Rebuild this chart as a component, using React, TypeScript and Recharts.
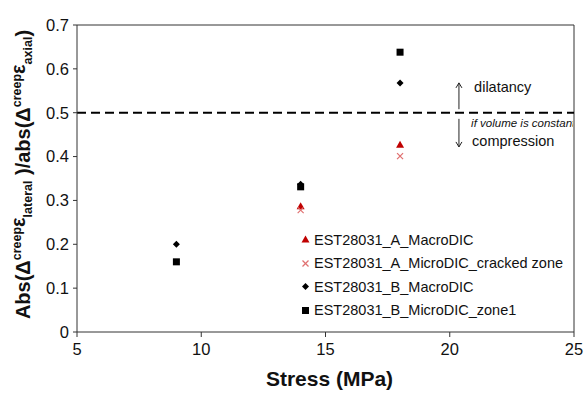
import React from 'react';
import { ScatterChart, Scatter, XAxis, YAxis, ReferenceLine, ReferenceDot, Legend } from 'recharts';

// ---- data ----
const xTicks = [5, 10, 15, 20, 25];
const yTicks = [0, 0.1, 0.2, 0.3, 0.4, 0.5, 0.6, 0.7];

const stressAMacro = [14, 18];
const ratioAMacro = [0.287, 0.427];
const stressAMicro = [14, 18];
const ratioAMicro = [0.278, 0.401];
const stressBMacro = [9, 14, 18];
const ratioBMacro = [0.2, 0.337, 0.568];
const stressBMicro = [9, 14, 18];
const ratioBMicro = [0.16, 0.331, 0.638];

const seriesNames = [
  'EST28031_A_MacroDIC',
  'EST28031_A_MicroDIC_cracked zone',
  'EST28031_B_MacroDIC',
  'EST28031_B_MicroDIC_zone1',
];

const threshold = 0.5;

const zip = (xs: number[], ys: number[]) => xs.map((x, i) => ({ x, y: ys[i] }));
const dataAMacro = zip(stressAMacro, ratioAMacro);
const dataAMicro = zip(stressAMicro, ratioAMicro);
const dataBMacro = zip(stressBMacro, ratioBMacro);
const dataBMicro = zip(stressBMicro, ratioBMicro);

const FONT = '"Liberation Sans", Arial, sans-serif';
const AXIS = '#333';
const RED = '#c00000';
const PINK = '#e07070';

// ---- marker shapes ----
const Triangle = (p: any) => (
  <polygon points={`${p.cx},${p.cy - 4} ${p.cx + 4},${p.cy + 3} ${p.cx - 4},${p.cy + 3}`} fill={RED} />
);
const Cross = (p: any) => (
  <g stroke={PINK} strokeWidth={1.2}>
    <line x1={p.cx - 3} y1={p.cy - 3} x2={p.cx + 3} y2={p.cy + 3} />
    <line x1={p.cx - 3} y1={p.cy + 3} x2={p.cx + 3} y2={p.cy - 3} />
  </g>
);
const Diamond = (p: any) => (
  <polygon points={`${p.cx},${p.cy - 3.5} ${p.cx + 3.5},${p.cy} ${p.cx},${p.cy + 3.5} ${p.cx - 3.5},${p.cy}`} fill="#000" />
);
const Square = (p: any) => <rect x={p.cx - 3.5} y={p.cy - 3.5} width={7} height={7} fill="#000" />;

const markers = [Triangle, Cross, Diamond, Square];

const LegendContent = () => (
  <div style={{ fontFamily: FONT, fontSize: 14.5, color: '#111' }}>
    {seriesNames.map((n, i) => {
      const M = markers[i];
      return (
        <div key={n} style={{ height: 23.5, display: 'flex', alignItems: 'center', whiteSpace: 'nowrap' }}>
          <svg width={9} height={9} style={{ marginRight: 4 }}>
            <M cx={4.5} cy={4.5} />
          </svg>
          <span>{n}</span>
        </div>
      );
    })}
  </div>
);

const YLabel = (props: any) => {
  const vb = props.viewBox;
  const cy = vb.y + vb.height / 2 - 4;
  const cx = 30;
  return (
    <text
      x={cx}
      y={cy}
      transform={`rotate(-90 ${cx} ${cy})`}
      textAnchor="middle"
      fontFamily={FONT}
      fontWeight="bold"
      fontSize={20}
      fill="#111"
    >
      <tspan>Abs(Δ</tspan>
      <tspan fontSize={12.5} dy={-9}>creep</tspan>
      <tspan dy={4}>ε</tspan>
      <tspan fontSize={12.5} dy={7}>lateral</tspan>
      <tspan dy={-2}> )/abs(Δ</tspan>
      <tspan fontSize={12.5} dy={-9}>creep</tspan>
      <tspan dy={4}>ε</tspan>
      <tspan fontSize={12.5} dy={7}>axial</tspan>
      <tspan dy={-2}>)</tspan>
    </text>
  );
};

const XLabel = (props: any) => {
  const vb = props.viewBox;
  return (
    <text x={vb.x + vb.width / 2 + 4} y={386} textAnchor="middle" fontFamily={FONT} fontWeight="bold" fontSize={21} fill="#111">
      Stress (MPa)
    </text>
  );
};

const Arrow = (dir: 'up' | 'down') => (p: any) => {
  const x = p.x1;
  const yTail = dir === 'up' ? Math.max(p.y1, p.y2) : Math.min(p.y1, p.y2);
  const yHead = dir === 'up' ? Math.min(p.y1, p.y2) : Math.max(p.y1, p.y2);
  const s = dir === 'up' ? 1 : -1;
  return (
    <g stroke="#222" strokeWidth={1} fill="none">
      <line x1={x} y1={yTail} x2={x} y2={yHead} />
      <polyline points={`${x - 3},${yHead + 5 * s} ${x},${yHead} ${x + 3},${yHead + 5 * s}`} />
    </g>
  );
};

const annText = (txt: string, size: number, italic = false) => (props: any) => {
  const vb = props.viewBox;
  return (
    <g>
      <defs>
        <clipPath id="annclip">
          <rect x={0} y={0} width={573} height={395} />
        </clipPath>
      </defs>
      <text
        x={vb.x}
        y={vb.y}
        dominantBaseline="central"
        fontFamily={FONT}
        fontSize={size}
        fontStyle={italic ? 'italic' : 'normal'}
        fill="#111"
        clipPath="url(#annclip)"
      >
        {txt}
      </text>
    </g>
  );
};

export default function App() {
  return (
    <div style={{ position: 'absolute', left: 0, top: 0, background: '#fff' }}>
      <ScatterChart width={585} height={395} margin={{ top: 25, right: 11, left: 32, bottom: 33 }}>
        <XAxis
          type="number"
          dataKey="x"
          domain={[5, 25]}
          ticks={xTicks}
          allowDataOverflow
          tickSize={5}
          tickMargin={6}
          stroke={AXIS}
          tick={{ fill: '#111', fontFamily: FONT, fontSize: 16.5 }}
          height={30}
          label={{ content: XLabel }}
        />
        <YAxis
          type="number"
          dataKey="y"
          domain={[0, 0.7]}
          ticks={yTicks}
          allowDataOverflow
          tickSize={4}
          tickMargin={4}
          stroke={AXIS}
          tick={{ fill: '#111', fontFamily: FONT, fontSize: 16.5 }}
          width={45}
          label={{ content: YLabel }}
        />
        <ReferenceLine y={0.7} stroke={AXIS} strokeWidth={1} />
        <ReferenceLine x={25} stroke={AXIS} strokeWidth={1} />
        <ReferenceLine y={threshold} stroke="#000" strokeWidth={2} strokeDasharray="9 5" />
        <ReferenceLine segment={[{ x: 20.37, y: 0.508 }, { x: 20.37, y: 0.568 }]} shape={Arrow('up')} />
        <ReferenceLine segment={[{ x: 20.37, y: 0.486 }, { x: 20.37, y: 0.422 }]} shape={Arrow('down')} />
        <ReferenceDot x={20.98} y={0.5586} r={0} fill="none" stroke="none" label={{ content: annText('dilatancy', 14.5) }} />
        <ReferenceDot x={20.86} y={0.4765} r={0} fill="none" stroke="none" label={{ content: annText('if volume is constant', 11.5, true) }} />
        <ReferenceDot x={20.9} y={0.4355} r={0} fill="none" stroke="none" label={{ content: annText('compression', 14.5) }} />
        <Scatter name={seriesNames[0]} data={dataAMacro} shape={Triangle} isAnimationActive={false} />
        <Scatter name={seriesNames[1]} data={dataAMicro} shape={Cross} isAnimationActive={false} />
        <Scatter name={seriesNames[3]} data={dataBMicro} shape={Square} isAnimationActive={false} />
        <Scatter name={seriesNames[2]} data={dataBMacro} shape={Diamond} isAnimationActive={false} />
        <Legend
          layout="vertical"
          align="center"
          verticalAlign="middle"
          content={LegendContent}
          wrapperStyle={{ left: 301, top: 228, width: 280 }}
        />
      </ScatterChart>
    </div>
  );
}
